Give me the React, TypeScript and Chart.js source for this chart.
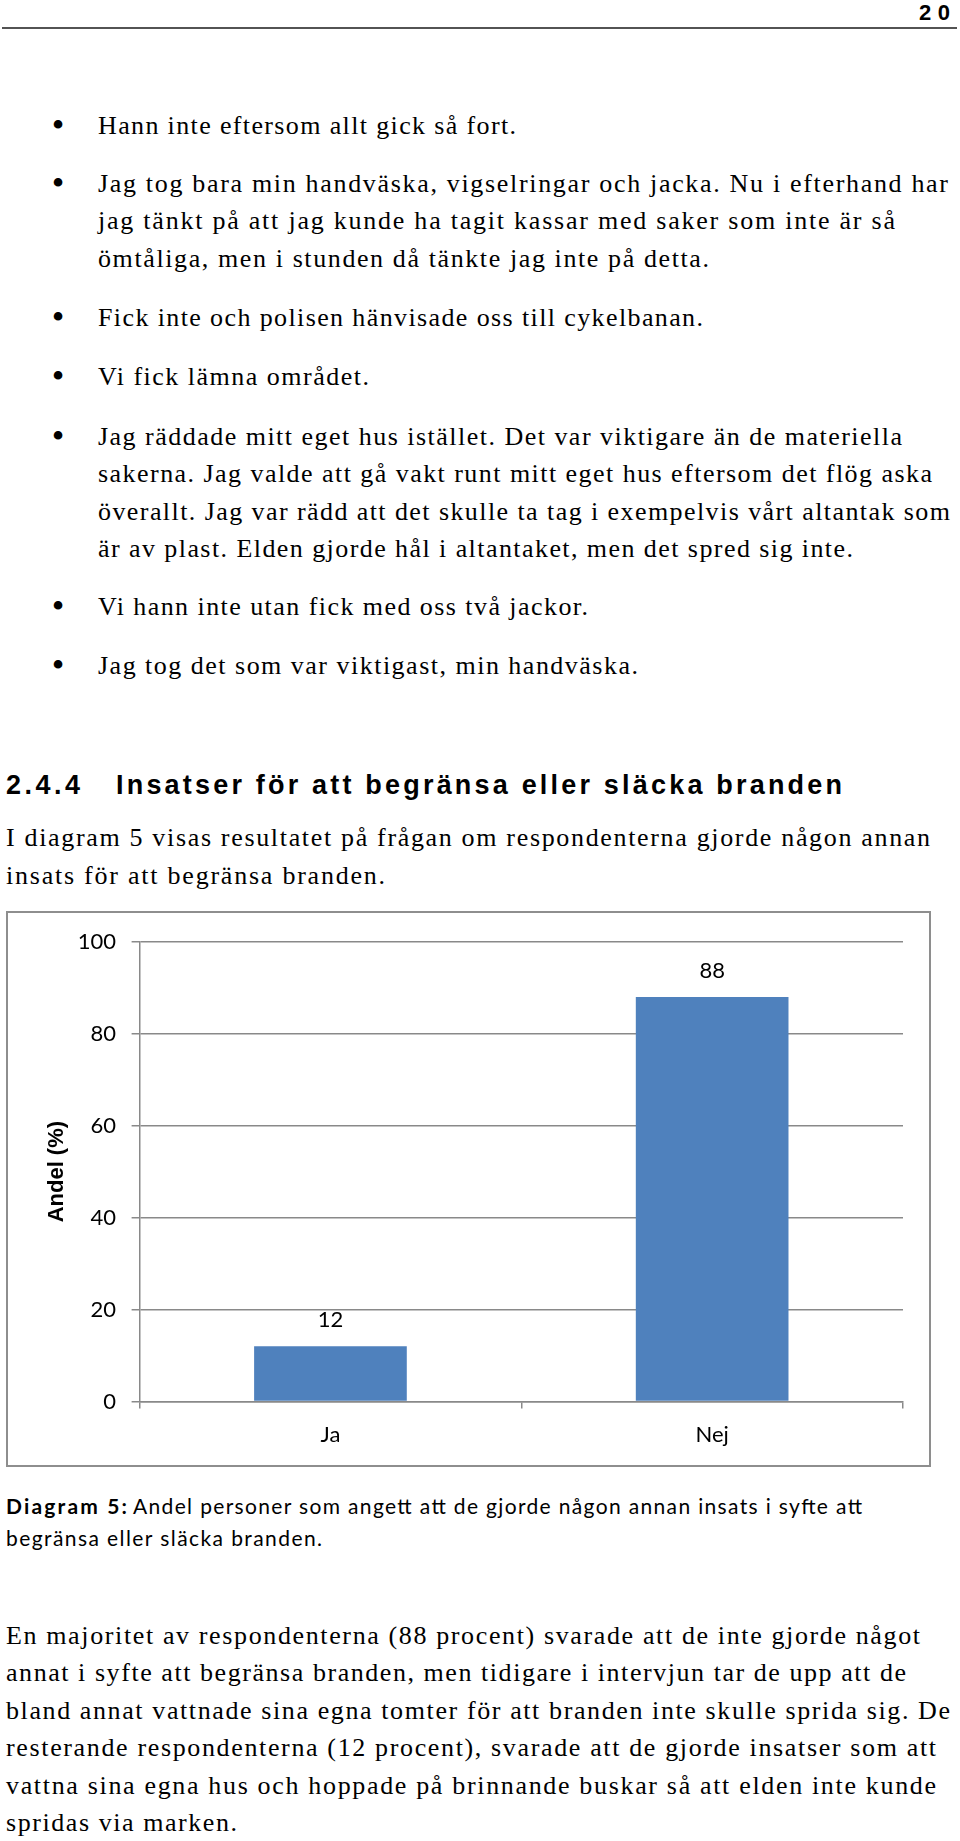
import React, { useEffect, useRef } from "react";
import { Chart, registerables } from "chart.js";

Chart.register(...registerables);

// ---- Chart data ----
const categories = ["Ja", "Nej"];
const values = [12, 88];
const yTicks = [0, 20, 40, 60, 80, 100];
const yTitle = "Andel (%)";
const barColor = "#4F81BD";

// ---- Page text ----
const pageNumber = "20";
const bulletTexts = [
  "Hann inte eftersom allt gick så fort.",
  "Jag tog bara min handväska, vigselringar och jacka. Nu i efterhand har",
  "jag tänkt på att jag kunde ha tagit kassar med saker som inte är så",
  "ömtåliga, men i stunden då tänkte jag inte på detta.",
  "Fick inte och polisen hänvisade oss till cykelbanan.",
  "Vi fick lämna området.",
  "Jag räddade mitt eget hus istället. Det var viktigare än de materiella",
  "sakerna. Jag valde att gå vakt runt mitt eget hus eftersom det flög aska",
  "överallt. Jag var rädd att det skulle ta tag i exempelvis vårt altantak som",
  "är av plast. Elden gjorde hål i altantaket, men det spred sig inte.",
  "Vi hann inte utan fick med oss två jackor.",
  "Jag tog det som var viktigast, min handväska.",
];
const bulletStarts = [true, true, false, false, true, true, true, false, false, false, true, true];
const headingNumber = "2.4.4";
const headingText = "Insatser för att begränsa eller släcka branden";
const introTexts = [
  "I diagram 5 visas resultatet på frågan om respondenterna gjorde någon annan",
  "insats för att begränsa branden.",
];
const captionLabel = "Diagram 5:";
const captionTexts = [
  "Andel personer som angett att de gjorde någon annan insats i syfte att",
  "begränsa eller släcka branden.",
];
const finalTexts = [
  "En majoritet av respondenterna (88 procent) svarade att de inte gjorde något",
  "annat i syfte att begränsa branden, men tidigare i intervjun tar de upp att de",
  "bland annat vattnade sina egna tomter för att branden inte skulle sprida sig. De",
  "resterande respondenterna (12 procent), svarade att de gjorde insatser som att",
  "vattna sina egna hus och hoppade på brinnande buskar så att elden inte kunde",
  "spridas via marken.",
];

// ---- Layout (positions) ----
const bulletBaselines = [134, 191.5, 229, 266.5, 326, 384.5, 444.5, 482, 519.5, 557, 615, 673.5];
const bulletEnds = [516, 948, 895, 709, 703, 369, 902, 932, 950, 853, 588, 638];
const introBaselines = [846, 883.5];
const introEnds = [930, 385];
const captionBaselines = [1514, 1546];
const finalBaselines = [1643.5, 1681, 1718.5, 1756, 1793.5, 1831];
const finalEnds = [920, 906, 950, 936, 936, 237];

const SERIF = "'Liberation Serif', 'Times New Roman', serif";
const SANS = "'Liberation Sans', Arial, sans-serif";
const CAL = "Lato, 'Open Sans', sans-serif";
const BODY = 26;

function ChartBox() {
  const ref = useRef<HTMLCanvasElement | null>(null);
  useEffect(() => {
    if (!ref.current) return;
    const valueLabels = {
      id: "valueLabels",
      afterDatasetsDraw(chart: any) {
        const ctx = chart.ctx;
        const meta = chart.getDatasetMeta(0);
        ctx.save();
        ctx.font = "22px Lato";
        ctx.fillStyle = "#000";
        ctx.textAlign = "center";
        ctx.textBaseline = "middle";
        meta.data.forEach((bar: any, i: number) => {
          ctx.fillText(String(values[i]), bar.x, bar.y - 26);
        });
        ctx.restore();
      },
    };
    const chart = new Chart(ref.current, {
      type: "bar",
      data: {
        labels: categories,
        datasets: [
          {
            data: values,
            backgroundColor: barColor,
            borderWidth: 0,
            barPercentage: 0.4,
            categoryPercentage: 1,
          },
        ],
      },
      options: {
        animation: false,
        responsive: false,
        devicePixelRatio: 1,
        layout: { padding: { left: 36, top: 26, right: 26, bottom: 0 } },
        plugins: { legend: { display: false }, tooltip: { enabled: false } },
        scales: {
          x: {
            ticks: { color: "#000", font: { family: "Lato", size: 22 }, padding: 12.8 },
            grid: {
              display: true,
              drawOnChartArea: false,
              drawTicks: true,
              tickLength: 7,
              color: "#898989",
              lineWidth: 1.5,
              offset: true,
            },
            border: { display: true, color: "#898989", width: 1.5 },
            afterFit: (s: any) => {
              s.height = 63.5;
            },
          },
          y: {
            min: 0,
            max: 100,
            afterBuildTicks: (s: any) => {
              s.ticks = yTicks.map((v) => ({ value: v }));
            },
            ticks: { color: "#000", font: { family: "Lato", size: 22 }, padding: 15.6 },
            grid: { color: "#898989", lineWidth: 1.5, tickLength: 8, drawTicks: true },
            border: { display: true, color: "#898989", width: 1.5 },
            title: {
              display: true,
              text: yTitle,
              color: "#000",
              font: { family: "Liberation Sans", size: 22, weight: "bold" },
              padding: 0,
            },
            afterFit: (s: any) => {
              s.width = 95.6;
            },
          },
        },
      },
      plugins: [valueLabels],
    } as any);
    return () => chart.destroy();
  }, []);
  return (
    <div
      style={{
        position: "absolute",
        left: 6,
        top: 911,
        width: 925,
        height: 556,
        boxSizing: "border-box",
        border: "2px solid #8e8e8e",
        background: "#fff",
      }}
    >
      <canvas ref={ref} width={921} height={552} style={{ display: "block", width: 921, height: 552 }} />
    </div>
  );
}

function T(props: {
  x: number;
  y: number;
  end?: number;
  text: string;
  family: string;
  size: number;
  weight?: string;
}) {
  const { x, y, end, text, family, size, weight } = props;
  const extra: any = {};
  if (end !== undefined) {
    extra.textLength = end - x;
    extra.lengthAdjust = "spacing";
  }
  return (
    <text x={x} y={y} fontFamily={family} fontSize={size} fontWeight={weight || "normal"} fill="#000" {...extra}>
      {text}
    </text>
  );
}

export default function App() {
  return (
    <div style={{ position: "absolute", left: 0, top: 0, width: 960, height: 1841, background: "#fff" }}>
      <svg width={960} height={1841} style={{ position: "absolute", left: 0, top: 0 }}>
        <T x={919} y={20} end={950} text={pageNumber} family={SANS} size={22} weight="bold" />
        <line x1={2} y1={28} x2={957} y2={28} stroke="#1a1a1a" strokeWidth={1.5} />
        {bulletTexts.map((t, i) => (
          <g key={"b" + i}>
            {bulletStarts[i] && (
              <text x={58} y={bulletBaselines[i] + 3} fontFamily={SERIF} fontSize={36} textAnchor="middle" fill="#000">
                •
              </text>
            )}
            <T x={98} y={bulletBaselines[i]} end={bulletEnds[i]} text={t} family={SERIF} size={BODY} />
          </g>
        ))}
        <T x={6} y={794} end={80} text={headingNumber} family={SANS} size={27} weight="bold" />
        <T x={116} y={794} end={842} text={headingText} family={SANS} size={27} weight="bold" />
        {introTexts.map((t, i) => (
          <T key={"i" + i} x={6} y={introBaselines[i]} end={introEnds[i]} text={t} family={SERIF} size={BODY} />
        ))}
        <T x={6} y={captionBaselines[0]} end={127} text={captionLabel} family={CAL} size={21} weight="bold" />
        <T x={133} y={captionBaselines[0]} end={862} text={captionTexts[0]} family={CAL} size={21} />
        <T x={6} y={captionBaselines[1]} end={322} text={captionTexts[1]} family={CAL} size={21} />
        {finalTexts.map((t, i) => (
          <T key={"f" + i} x={6} y={finalBaselines[i]} end={finalEnds[i]} text={t} family={SERIF} size={BODY} />
        ))}
      </svg>
      <ChartBox />
    </div>
  );
}
